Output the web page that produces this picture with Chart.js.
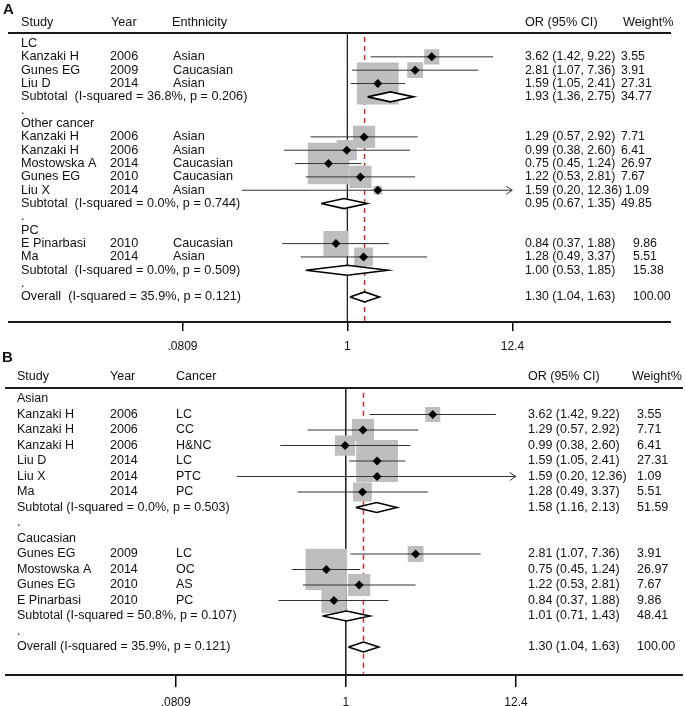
<!DOCTYPE html>
<html>
<head>
<meta charset="utf-8">
<script src="https://cdn.jsdelivr.net/npm/chart.js@4.4.1/dist/chart.umd.min.js"></script>
<style>
  html, body { margin: 0; padding: 0; background: #fff; overflow: hidden; }
  #wrap { position: relative; width: 685px; height: 706px; overflow: hidden; }
  canvas { position: absolute; left: 0; }
</style>
</head>
<body>
<div id="wrap">
  <canvas id="chartA" width="685" height="356" style="top:0"></canvas>
  <canvas id="chartB" width="685" height="360" style="top:350px"></canvas>
</div>
<script>
// panel A: by cancer type
const headersA = ["Study", "Year", "Enthnicity", "OR (95% CI)", "Weight%"];
const studiesA = ["LC", "Kanzaki H", "Gunes EG", "Liu D", "Subtotal  (I-squared = 36.8%, p = 0.206)", ".",
  "Other cancer", "Kanzaki H", "Kanzaki H", "Mostowska A", "Gunes EG", "Liu X", "Subtotal  (I-squared = 0.0%, p = 0.744)", ".",
  "PC", "E Pinarbasi", "Ma", "Subtotal  (I-squared = 0.0%, p = 0.509)", ".",
  "Overall  (I-squared = 35.9%, p = 0.121)"];
const yearsA = ["", "2006", "2009", "2014", "", "", "", "2006", "2006", "2014", "2010", "2014", "", "", "", "2010", "2014", "", "", ""];
const ethnicityA = ["", "Asian", "Caucasian", "Asian", "", "", "", "Asian", "Asian", "Caucasian", "Caucasian", "Asian", "", "", "", "Caucasian", "Asian", "", "", ""];
const orA = [null, 3.62, 2.81, 1.59, 1.93, null, null, 1.29, 0.99, 0.75, 1.22, 1.59, 0.95, null, null, 0.84, 1.28, 1.00, null, 1.30];
const lowA = [null, 1.42, 1.07, 1.05, 1.36, null, null, 0.57, 0.38, 0.45, 0.53, 0.20, 0.67, null, null, 0.37, 0.49, 0.53, null, 1.04];
const highA = [null, 9.22, 7.36, 2.41, 2.75, null, null, 2.92, 2.60, 1.24, 2.81, 12.36, 1.35, null, null, 1.88, 3.37, 1.85, null, 1.63];
const weightA = [null, 3.55, 3.91, 27.31, 34.77, null, null, 7.71, 6.41, 26.97, 7.67, 1.09, 49.85, null, null, 9.86, 5.51, 15.38, null, 100.00];

// panel B: by ethnicity
const headersB = ["Study", "Year", "Cancer", "OR (95% CI)", "Weight%"];
const studiesB = ["Asian", "Kanzaki H", "Kanzaki H", "Kanzaki H", "Liu D", "Liu X", "Ma", "Subtotal (I-squared = 0.0%, p = 0.503)", ".",
  "Caucasian", "Gunes EG", "Mostowska A", "Gunes EG", "E Pinarbasi", "Subtotal (I-squared = 50.8%, p = 0.107)", ".",
  "Overall (I-squared = 35.9%, p = 0.121)"];
const yearsB = ["", "2006", "2006", "2006", "2014", "2014", "2014", "", "", "", "2009", "2014", "2010", "2010", "", "", ""];
const cancerB = ["", "LC", "CC", "H&NC", "LC", "PTC", "PC", "", "", "", "LC", "OC", "AS", "PC", "", "", ""];
const orB = [null, 3.62, 1.29, 0.99, 1.59, 1.59, 1.28, 1.58, null, null, 2.81, 0.75, 1.22, 0.84, 1.01, null, 1.30];
const lowB = [null, 1.42, 0.57, 0.38, 1.05, 0.20, 0.49, 1.16, null, null, 1.07, 0.45, 0.53, 0.37, 0.71, null, 1.04];
const highB = [null, 9.22, 2.92, 2.60, 2.41, 12.36, 3.37, 2.13, null, null, 7.36, 1.24, 2.81, 1.88, 1.43, null, 1.63];
const weightB = [null, 3.55, 7.71, 6.41, 27.31, 1.09, 5.51, 51.59, null, null, 3.91, 26.97, 7.67, 9.86, 48.41, null, 100.00];

const tickValues = [0.0809, 1, 12.4];
const tickLabels = [".0809", "1", "12.4"];

const FONT = '"Liberation Sans", Arial, sans-serif';

function forestChart(canvasId, d, lay) {
  const n = d.labels.length;
  const isStudy = (i) => d.years[i] !== "";
  const isPooled = (i) => d.or[i] !== null && !isStudy(i);
  const halfH = 5 / lay.rowPx;

  const boxes = [], marks = [], ci = [];
  for (let i = 0; i < n; i++) {
    if (!isStudy(i)) continue;
    boxes.push({ x: d.or[i], y: i, w: d.weight[i] });
    marks.push({ x: d.or[i], y: i });
    ci.push({ x: d.low[i], y: i }, { x: d.high[i], y: i }, { x: 1, y: null });
  }
  const overall = d.or[n - 1];
  const boxRadius = (c) => (c.raw ? lay.boxK * Math.sqrt(c.raw.w) / Math.SQRT2 : 0);

  const datasets = [
    { type: "line", data: [{ x: 1, y: lay.yMin }, { x: 1, y: lay.yMax }],
      borderColor: "#222", borderWidth: 1, pointRadius: 0, order: 6 },
    { type: "line", data: [{ x: overall, y: lay.yMin + 0.3 }, { x: overall, y: lay.yMax - 0.1 }],
      borderColor: "#cc2a2a", borderWidth: 1.5, borderDash: [5, 4], pointRadius: 0, order: 5 },
    { type: "scatter", data: boxes, pointStyle: "rect", pointRadius: boxRadius, pointHoverRadius: boxRadius,
      backgroundColor: "#bebebe", borderWidth: 0, order: 4 },
    { type: "line", data: ci, borderColor: "#333", borderWidth: 1, pointRadius: 0, spanGaps: false, order: 3 },
  ];
  for (let i = 0; i < n; i++) {
    if (!isPooled(i)) continue;
    datasets.push({
      type: "line",
      data: [{ x: d.low[i], y: i }, { x: d.or[i], y: i - halfH }, { x: d.high[i], y: i },
             { x: d.or[i], y: i + halfH }, { x: d.low[i], y: i }],
      borderColor: "#000", borderWidth: 1.6, backgroundColor: "#fff", fill: "shape",
      pointRadius: 0, tension: 0, order: 2,
    });
  }
  datasets.push({ type: "scatter", data: marks, pointStyle: "rectRot", pointRadius: 4.5,
    backgroundColor: "#000", borderWidth: 0, order: 1 });

  const forestText = {
    id: "forestText",
    afterDatasetsDraw(chart) {
      // arrow heads where the CI runs off the axis
      const { ctx, scales: { x, y } } = chart;
      ctx.save();
      ctx.strokeStyle = "#333";
      ctx.lineWidth = 1;
      for (let i = 0; i < n; i++) {
        if (!isStudy(i) || d.high[i] < tickValues[2] * 0.99) continue;
        const px = x.getPixelForValue(d.high[i]);
        const py = y.getPixelForValue(i);
        ctx.beginPath();
        ctx.moveTo(px - 6, py - 4);
        ctx.lineTo(px, py);
        ctx.lineTo(px - 6, py + 4);
        ctx.stroke();
      }
      ctx.restore();
    },
    afterDraw(chart) {
      const { ctx, chartArea, scales: { y } } = chart;
      ctx.save();
      ctx.fillStyle = "#111";
      ctx.textBaseline = "middle";
      ctx.font = "bold 15px " + FONT;
      ctx.fillText(lay.letter, lay.letterX, lay.letterY);

      ctx.font = lay.fontSize + "px " + FONT;
      const hy = chartArea.top - lay.headGap;
      d.headers.forEach((h, k) => ctx.fillText(h, lay.headX[k], hy));

      for (let i = 0; i < n; i++) {
        const py = y.getPixelForValue(i);
        ctx.font = lay.fontSize + "px " + FONT;
        ctx.fillText(d.labels[i], lay.colX[0], py);
        if (isStudy(i)) {
          ctx.fillText(d.years[i], lay.colX[1], py);
          ctx.fillText(d.group[i], lay.colX[2], py);
        }
        if (d.or[i] !== null) {
          ctx.font = lay.numSize + "px " + FONT;
          const txt = d.or[i].toFixed(2) + " (" + d.low[i].toFixed(2) + ", " + d.high[i].toFixed(2) + ")";
          ctx.fillText(txt, lay.colX[3], py);
          const end = lay.colX[3] + ctx.measureText(txt).width + 3;
          ctx.fillText(d.weight[i].toFixed(2), Math.max(end, lay.weightX(i)), py);
        }
      }

      ctx.strokeStyle = "#1a1a1a";
      ctx.lineWidth = 2;
      [chartArea.top, chartArea.bottom].forEach((ly) => {
        ctx.beginPath();
        ctx.moveTo(lay.ruleX[0], ly);
        ctx.lineTo(lay.ruleX[1], ly);
        ctx.stroke();
      });
      ctx.restore();
    },
  };

  return new Chart(document.getElementById(canvasId), {
    type: "scatter",
    data: { datasets },
    options: {
      responsive: false,
      animation: false,
      devicePixelRatio: 1,
      events: [],
      layout: { padding: lay.padding },
      plugins: { legend: { display: false }, tooltip: { enabled: false } },
      scales: {
        x: {
          type: "logarithmic",
          position: "bottom",
          min: tickValues[0],
          max: tickValues[2],
          afterBuildTicks: (s) => { s.ticks = tickValues.map((v) => ({ value: v })); },
          afterFit: (s) => { s.height = lay.axisH; },
          ticks: {
            autoSkip: false, maxRotation: 0, padding: lay.tickPad, color: "#111",
            font: { family: FONT, size: 12 },
            callback: (v, i) => tickLabels[i],
          },
          grid: { drawOnChartArea: false, tickLength: lay.tickLen, color: "#000", lineWidth: 1.5 },
          border: { color: "#000", width: 2 },
        },
        y: { type: "linear", min: lay.yMin, max: lay.yMax, reverse: true, display: false },
      },
    },
    plugins: [forestText],
  });
}

forestChart("chartA",
  { headers: headersA, labels: studiesA, years: yearsA, group: ethnicityA, or: orA, low: lowA, high: highA, weight: weightA },
  {
    letter: "A", letterX: 3, letterY: 10, headGap: 10.5, fontSize: 12.7, numSize: 12.3,
    rowPx: 13.34, yMin: -0.787, yMax: 20.877, boxK: 8,
    padding: { left: 182.5, right: 172.5, top: 33, bottom: 3 },
    tickLen: 9, tickPad: 8, axisH: 31,
    colX: [21, 110, 173, 525], headX: [21, 111, 172, 525, 623],
    weightX: (i) => (i >= 15 ? 633 : 621),
    ruleX: [8, 671],
  });

forestChart("chartB",
  { headers: headersB, labels: studiesB, years: yearsB, group: cancerB, or: orB, low: lowB, high: highB, weight: weightB },
  {
    letter: "B", letterX: 2, letterY: 8, headGap: 11, fontSize: 12.5, numSize: 12.5,
    rowPx: 15.5, yMin: -0.71, yMax: 17.806, boxK: 8,
    padding: { left: 175.7, right: 169, top: 38, bottom: 1 },
    tickLen: 12, tickPad: 8, axisH: 34,
    colX: [17, 110, 176, 528], headX: [17, 110, 176, 528, 632],
    weightX: () => 637,
    ruleX: [5, 683],
  });
</script>
</body>
</html>
